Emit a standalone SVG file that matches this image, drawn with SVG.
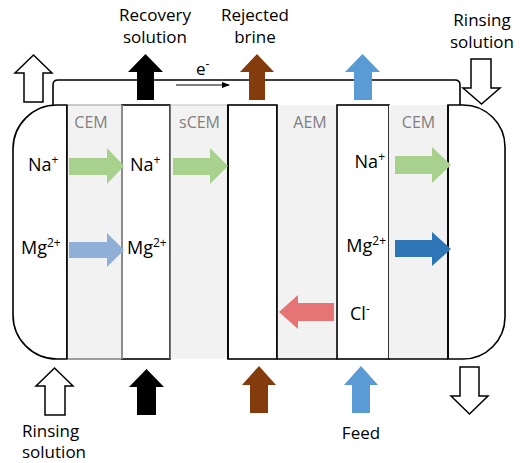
<svg xmlns="http://www.w3.org/2000/svg" width="525" height="463" viewBox="0 0 525 463">
<style>
text{font-family:"Open Sans","Noto Sans","Liberation Sans",sans-serif;fill:#000}
.lbl{font-size:17px}
.ion{font-size:18px}
.sup{font-size:12px}
.mem{font-size:16px;fill:#7f7f7f;text-anchor:middle}
.box{fill:#fff;stroke:#000;stroke-width:1.6}
.memb{fill:#f2f2f2;stroke:none}
.out{fill:#fff;stroke:#000;stroke-width:1.5;stroke-linejoin:miter}
</style>
<defs>
<marker id="ah" markerWidth="8" markerHeight="6" refX="7" refY="3" orient="auto" markerUnits="userSpaceOnUse">
<path d="M0,0 L8,3 L0,6 Z" fill="#000"/>
</marker>
</defs>
<rect width="525" height="463" fill="#fff"/>

<g id="top-channel">
<path d="M53,106 V85 Q53,80 58,80 H455 Q460,80 460,85 V106" fill="none" stroke="#000" stroke-width="1.6"/>
</g>

<g id="cell">
<g id="left-compartment"><path class="box" d="M67,105 L57,105 A44,44 0 0 0 13,149 L13,315 A44,44 0 0 0 57,359 L67,359 Z"/></g>
<g id="mem-cem1"><rect class="memb" x="67" y="105" width="55" height="254"/><line x1="67" y1="105" x2="122" y2="105" stroke="#9a9a9a" stroke-width="1.2"/><line x1="67" y1="359" x2="122" y2="359" stroke="#7f7f7f" stroke-width="1.4"/></g>
<g id="recovery-compartment"><rect class="box" x="122" y="105" width="48" height="254" stroke="#000"/><line x1="122" y1="105" x2="122" y2="359" stroke="#8c8c8c" stroke-width="2"/></g>
<g id="mem-scem"><rect class="memb" x="170" y="105" width="58" height="254"/><line x1="170" y1="105" x2="228" y2="105" stroke="#bdbdbd" stroke-width="1.2"/><line x1="170" y1="105" x2="170" y2="359" stroke="#555" stroke-width="1.6"/></g>
<g id="brine-compartment"><rect class="box" x="228" y="105" width="49" height="254"/></g>
<g id="mem-aem"><rect class="memb" x="277" y="105" width="60" height="254"/><line x1="277" y1="359" x2="337" y2="359" stroke="#000" stroke-width="1.6"/></g>
<g id="feed-compartment"><rect class="box" x="337" y="105" width="52" height="254"/></g>
<g id="mem-cem2"><rect class="memb" x="389" y="105" width="59" height="254"/><line x1="389" y1="359" x2="448" y2="359" stroke="#000" stroke-width="1.6"/></g>
<g id="right-compartment"><path class="box" d="M448,105 L463,105 A42,42 0 0 1 505,147 L505,317 A42,42 0 0 1 463,359 L448,359 Z"/></g>
<line x1="67" y1="105" x2="67" y2="359" stroke="#000" stroke-width="1.6"/>
<line x1="228" y1="105" x2="228" y2="359" stroke="#000" stroke-width="1.6"/>
<line x1="277" y1="105" x2="277" y2="359" stroke="#000" stroke-width="1.6"/>
<line x1="448" y1="105" x2="448" y2="359" stroke="#000" stroke-width="1.6"/>
</g>

<g id="membrane-labels">
<text class="mem" x="91" y="128">CEM</text>
<text class="mem" x="199.5" y="128">sCEM</text>
<text class="mem" x="310" y="128">AEM</text>
<text class="mem" x="418.5" y="128">CEM</text>
</g>

<g id="connectors">
<g id="stream-arrows">
<path id="rinse-out-top" class="out" d="M33.5,55 L52,73 L43,73 L43,102 L24,102 L24,73 L15,73 Z"/>
<path id="recovery-out" fill="#000" d="M145.5,54 L163,72 L154,72 L154,100 L137,100 L137,72 L128,72 Z"/>
<path id="brine-out" fill="#843C0C" d="M257,54 L274,72 L265,72 L265,100 L249,100 L249,72 L240,72 Z"/>
<path id="feed-out" fill="#5B9BD5" d="M362.5,54 L380,72 L372,72 L372,100 L354,100 L354,72 L345,72 Z"/>
<path id="rinse-in-top" class="out" d="M471,59 L491,59 L491,88 L500,88 L481.5,104 L463,88 L471,88 Z"/>
<path id="rinse-in-bottom" class="out" d="M54.5,368 L73,386 L65,386 L65,415 L45,415 L45,386 L36,386 Z"/>
<path id="recovery-in" fill="#000" d="M146.5,369 L164,387 L156,387 L156,415 L137,415 L137,387 L129,387 Z"/>
<path id="brine-in" fill="#843C0C" d="M259,366 L276,385 L268,385 L268,413 L250,413 L250,385 L242,385 Z"/>
<path id="feed-in" fill="#5B9BD5" d="M361,366 L378,385 L370,385 L370,413 L352,413 L352,385 L344,385 Z"/>
<path id="rinse-out-bottom" class="out" d="M460,367 L479,367 L479,396 L488,396 L469.5,414 L451,396 L460,396 Z"/>
</g>
<g id="ion-arrows">
<path id="na-cem1" fill="#A9D18E" d="M69,158 L107,158 L107,148 L124,166 L107,184 L107,175 L69,175 Z"/>
<path id="na-scem" fill="#A9D18E" d="M173,158 L210,158 L210,148 L228,166 L210,184 L210,175 L173,175 Z"/>
<path id="mg-cem1" fill="#8FAFD6" d="M69,242 L107,242 L107,233 L124,250 L107,267 L107,258 L69,258 Z"/>
<path id="na-cem2" fill="#A9D18E" d="M395,156 L432,156 L432,147 L451,165 L432,183 L432,174 L395,174 Z"/>
<path id="mg-cem2" fill="#2E75B6" d="M395,240 L432,240 L432,232 L451,249 L432,266 L432,257 L395,257 Z"/>
<path id="cl-aem" fill="#E67474" d="M334,303 L298,303 L298,295 L279,312 L298,329 L298,321 L334,321 Z"/>
</g>
<g id="electron-flow">
<line x1="176" y1="85" x2="229" y2="85" stroke="#000" stroke-width="1" marker-end="url(#ah)"/>
</g>
</g>

<g id="ion-labels">
<text class="ion" x="28" y="171">Na<tspan class="sup" dy="-7">+</tspan></text>
<text class="ion" x="130" y="171">Na<tspan class="sup" dy="-7">+</tspan></text>
<text class="ion" x="21" y="254">Mg<tspan class="sup" dy="-7">2+</tspan></text>
<text class="ion" x="127" y="254">Mg<tspan class="sup" dy="-7">2+</tspan></text>
<text class="ion" x="385" y="168" text-anchor="end">Na<tspan class="sup" dy="-7">+</tspan></text>
<text class="ion" x="386" y="252" text-anchor="end">Mg<tspan class="sup" dy="-7">2+</tspan></text>
<text class="ion" x="350" y="320">Cl<tspan class="sup" dy="-7">-</tspan></text>
</g>

<g id="stream-labels">
<text class="lbl" x="155" y="21" text-anchor="middle">Recovery</text>
<text class="lbl" x="155" y="43" text-anchor="middle">solution</text>
<text class="lbl" x="255" y="21" text-anchor="middle">Rejected</text>
<text class="lbl" x="255" y="43" text-anchor="middle">brine</text>
<text class="lbl" x="482" y="26" text-anchor="middle">Rinsing</text>
<text class="lbl" x="482" y="48" text-anchor="middle">solution</text>
<text class="lbl" x="22" y="437">Rinsing</text>
<text class="lbl" x="22" y="458">solution</text>
<text class="lbl" x="361" y="439" text-anchor="middle">Feed</text>
<text class="lbl" x="196" y="75">e<tspan class="sup" dy="-7">-</tspan></text>
</g>
</svg>
